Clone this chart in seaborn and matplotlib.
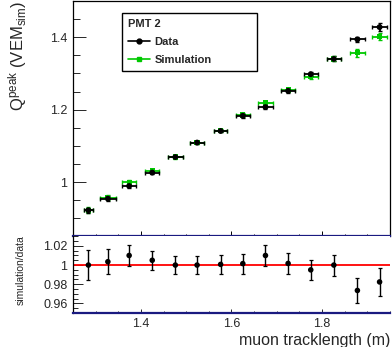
import matplotlib
matplotlib.use("Agg")
import matplotlib.pyplot as plt
from matplotlib.lines import Line2D
from matplotlib.ticker import MultipleLocator, FuncFormatter
import pandas as pd
import seaborn as sns

# values
tracklength = [1.284, 1.327, 1.374, 1.425, 1.476, 1.524, 1.576, 1.625, 1.675, 1.725, 1.775, 1.826, 1.878, 1.927]
tracklength_err = [0.0095, 0.017, 0.016, 0.016, 0.0165, 0.016, 0.015, 0.015, 0.016, 0.015, 0.015, 0.015, 0.016, 0.016]
q_data = [0.922, 0.954, 0.989, 1.026, 1.069, 1.109, 1.141, 1.183, 1.207, 1.252, 1.298, 1.340, 1.394, 1.428]
q_data_err = [0.007, 0.006, 0.005, 0.005, 0.004, 0.004, 0.004, 0.005, 0.005, 0.005, 0.006, 0.007, 0.008, 0.010]
q_sim = [0.922, 0.957, 0.999, 1.031, 1.069, 1.109, 1.142, 1.185, 1.219, 1.254, 1.291, 1.340, 1.357, 1.402]
q_sim_err = [0.008, 0.006, 0.006, 0.005, 0.005, 0.005, 0.005, 0.005, 0.006, 0.006, 0.006, 0.007, 0.011, 0.009]
ratio = [1.000, 1.0035, 1.010, 1.005, 1.000, 1.000, 1.0007, 1.0015, 1.010, 1.0017, 0.995, 1.000, 0.9735, 0.9824]
ratio_err = [0.0153, 0.013, 0.011, 0.010, 0.009, 0.0095, 0.010, 0.0105, 0.0105, 0.0105, 0.0104, 0.011, 0.013, 0.0148]

df = pd.DataFrame({"x": tracklength, "xerr": tracklength_err,
                   "data": q_data, "data_err": q_data_err,
                   "sim": q_sim, "sim_err": q_sim_err,
                   "ratio": ratio, "ratio_err": ratio_err})

sns.set_style("ticks")
plt.rcParams["font.family"] = ["Liberation Sans", "DejaVu Sans"]
plt.rcParams["mathtext.fontset"] = "custom"
plt.rcParams["mathtext.rm"] = "Liberation Sans"
plt.rcParams["mathtext.it"] = "Liberation Sans:italic"
plt.rcParams["mathtext.bf"] = "Liberation Sans:bold"

green = "#00c800"
navy = "#1a1a80"
gfmt = FuncFormatter(lambda v, p: "%g" % round(v, 4))

fig = plt.figure(figsize=(3.92, 3.47), dpi=100)
ax = fig.add_axes([0.1862, 0.319, 0.8087, 0.678])
axr = fig.add_axes([0.1862, 0.098, 0.8087, 0.221])

# Upper panel
ax.errorbar(df.x, df.sim, xerr=df.xerr, yerr=df.sim_err, fmt="none",
            ecolor=green, elinewidth=1.3, capsize=1.3, capthick=1.0)
sns.scatterplot(data=df, x="x", y="sim", ax=ax, marker="s", color=green,
                s=14, edgecolor="none", zorder=3)
ax.errorbar(df.x, df.data, xerr=df.xerr, yerr=df.data_err, fmt="none",
            ecolor="black", elinewidth=1.3, capsize=1.3, capthick=1.0)
sns.scatterplot(data=df, x="x", y="data", ax=ax, marker="o", color="black",
                s=18, edgecolor="none", zorder=4)

ax.set_xlim(1.25, 1.95)
ax.set_ylim(0.85, 1.5)
ax.xaxis.set_major_locator(MultipleLocator(0.2))
ax.xaxis.set_minor_locator(MultipleLocator(0.05))
ax.yaxis.set_major_locator(MultipleLocator(0.2))
ax.yaxis.set_minor_locator(MultipleLocator(0.05))
ax.yaxis.set_major_formatter(gfmt)
ax.tick_params(axis="x", which="both", direction="in", labelbottom=False, width=0.7, color="black")
ax.tick_params(axis="x", which="major", length=3.6)
ax.tick_params(axis="x", which="minor", length=1.8)
ax.tick_params(axis="y", which="both", direction="in", width=0.7, labelsize=9, pad=4)
ax.tick_params(axis="y", which="major", length=9.4)
ax.tick_params(axis="y", which="minor", length=5)
ax.set_xlabel("")
ax.set_ylabel(r"Q$^{\mathrm{peak}}$ (VEM$_{\mathrm{sim}}$)", fontsize=12, loc="top")
ax.yaxis.set_label_coords(-0.14, 1.0)
for s in ["left", "top", "right"]:
    ax.spines[s].set_color("black")
    ax.spines[s].set_linewidth(0.9)
ax.spines["bottom"].set_color(navy)
ax.spines["bottom"].set_linewidth(1.6)

handles = [Line2D([], [], color="black", lw=1.2, marker="o", markersize=3.5),
           Line2D([], [], color=green, lw=1.2, marker="s", markersize=3.2)]
leg = ax.legend(handles, ["Data", "Simulation"], title="PMT 2", loc="upper left",
                bbox_to_anchor=(0.154, 0.706, 0.426, 0.242), mode="expand",
                borderaxespad=0, fancybox=False,
                frameon=True, edgecolor="black", framealpha=1, handlelength=2.0,
                handletextpad=0.4, labelspacing=0.72, borderpad=0.55,
                prop={"weight": "bold", "size": 8},
                title_fontproperties={"weight": "bold", "size": 8})
leg._legend_box.align = "left"
leg.get_frame().set_linewidth(1.0)

# Ratio panel
axr.axhline(1.0, color="red", lw=1.3, zorder=1)
axr.errorbar(df.x, df.ratio, yerr=df.ratio_err, fmt="none", ecolor="black",
             elinewidth=1.0, capsize=1.5, capthick=0.9)
sns.scatterplot(data=df, x="x", y="ratio", ax=axr, marker="o", color="black",
                s=16, edgecolor="none", zorder=4)
axr.set_xlim(1.25, 1.95)
axr.set_ylim(0.95, 1.03)
axr.xaxis.set_major_locator(MultipleLocator(0.2))
axr.xaxis.set_minor_locator(MultipleLocator(0.05))
axr.yaxis.set_major_locator(MultipleLocator(0.02))
axr.yaxis.set_minor_locator(MultipleLocator(0.005))
axr.yaxis.set_major_formatter(gfmt)
axr.xaxis.set_major_formatter(gfmt)
axr.tick_params(axis="both", which="both", direction="in", width=0.7, labelsize=9)
axr.tick_params(axis="x", which="major", length=2.9, pad=3.5)
axr.tick_params(axis="x", which="minor", length=1.4)
axr.tick_params(axis="y", which="major", length=7.2, pad=4)
axr.tick_params(axis="y", which="minor", length=3.6)
axr.set_xlabel("muon tracklength (m)", fontsize=11.5, loc="right")
axr.xaxis.set_label_coords(1.0, -0.26)
axr.set_ylabel("simulation/data", fontsize=7.5)
axr.yaxis.set_label_coords(-0.15, 0.56)
axr.spines["left"].set_color("black")
axr.spines["left"].set_linewidth(0.9)
axr.spines["right"].set_visible(False)
axr.spines["top"].set_visible(False)
axr.spines["bottom"].set_color(navy)
axr.spines["bottom"].set_linewidth(1.6)

fig.savefig("out.png", dpi=100)
